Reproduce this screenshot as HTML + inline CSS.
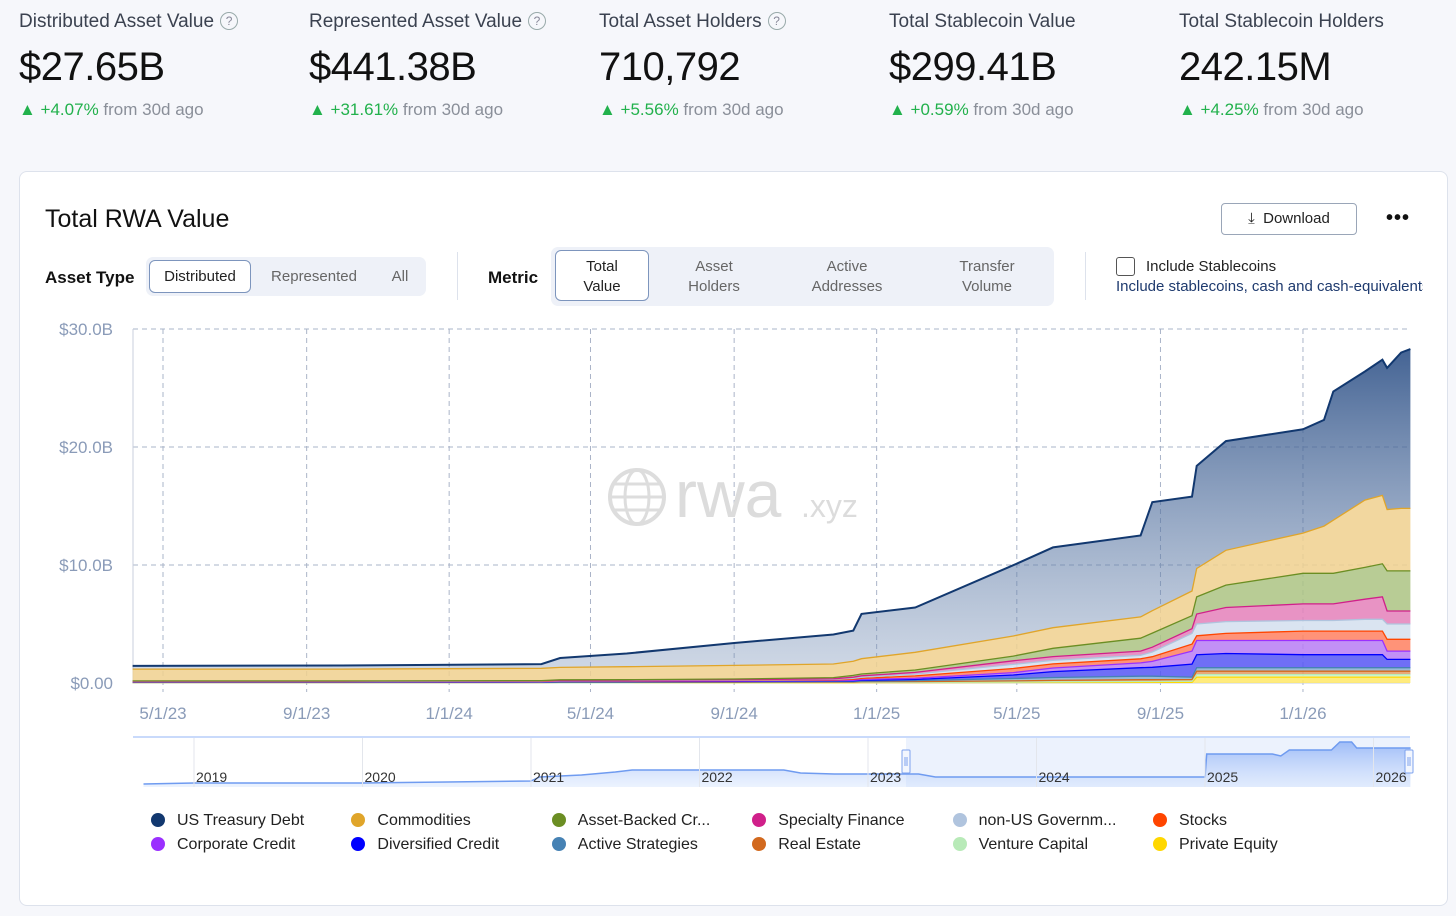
<!DOCTYPE html>
<html><head><meta charset="utf-8">
<style>
body{margin:0;width:1456px;height:916px;background:#f6f7fb;font-family:"Liberation Sans",sans-serif;position:relative;overflow:hidden;color:#111}
.stat{position:absolute;top:11px}
.stat .lbl{font-size:19px;color:#3b4250;white-space:nowrap}
.stat .q{display:inline-block;width:16px;height:16px;border:1.5px solid #9aa;border-radius:50%;font-size:12px;text-align:center;line-height:16px;color:#889;vertical-align:2px;margin-left:6px}
.stat .val{font-size:40px;margin-top:12px;letter-spacing:-0.5px}
.stat .chg{font-size:17px;margin-top:10px;color:#8a8f99;white-space:nowrap}
.stat .chg b{color:#22b14c;font-weight:normal}
.card{position:absolute;left:19px;top:171px;width:1427px;height:733px;background:#fff;border:1px solid #dde2ec;border-radius:8px}
.abs{position:absolute}
.seg{position:absolute;background:#eef1f8;border-radius:7px}
.opt{position:absolute;font-size:15px;color:#666;text-align:center;line-height:20px}
.sel{background:#fff;border:1px solid #7d95bd;border-radius:6px;color:#222}
</style></head><body>
<div class="stat" style="left:19px"><div class="lbl">Distributed Asset Value<span class="q">?</span></div><div class="val">$27.65B</div><div class="chg"><b>▲ +4.07%</b> from 30d ago</div></div>
<div class="stat" style="left:309px"><div class="lbl">Represented Asset Value<span class="q">?</span></div><div class="val">$441.38B</div><div class="chg"><b>▲ +31.61%</b> from 30d ago</div></div>
<div class="stat" style="left:599px"><div class="lbl">Total Asset Holders<span class="q">?</span></div><div class="val">710,792</div><div class="chg"><b>▲ +5.56%</b> from 30d ago</div></div>
<div class="stat" style="left:889px"><div class="lbl">Total Stablecoin Value</div><div class="val">$299.41B</div><div class="chg"><b>▲ +0.59%</b> from 30d ago</div></div>
<div class="stat" style="left:1179px"><div class="lbl">Total Stablecoin Holders</div><div class="val">242.15M</div><div class="chg"><b>▲ +4.25%</b> from 30d ago</div></div>

<div class="card"></div>
<div class="abs" style="left:45px;top:205px;font-size:25px">Total RWA Value</div>
<div class="abs" style="left:1221px;top:203px;width:134px;height:30px;border:1px solid #9aa6b8;border-radius:4px;font-size:15px;line-height:30px;text-align:center;color:#222">⤓&nbsp; Download</div>
<div class="abs" style="left:1386px;top:207px;font-size:20px;font-weight:bold;letter-spacing:1px">•••</div>

<div class="abs" style="left:45px;top:268px;font-size:17px;font-weight:bold">Asset Type</div>
<div class="seg" style="left:146px;top:257px;width:280px;height:39px"></div>
<div class="opt sel" style="left:149px;top:260px;width:100px;height:31px;line-height:31px">Distributed</div>
<div class="opt" style="left:262px;top:267px;width:104px">Represented</div>
<div class="opt" style="left:380px;top:267px;width:40px">All</div>
<div class="abs" style="left:457px;top:252px;width:1px;height:48px;background:#dde2ec"></div>
<div class="abs" style="left:488px;top:268px;font-size:17px;font-weight:bold">Metric</div>
<div class="seg" style="left:551px;top:247px;width:503px;height:59px"></div>
<div class="opt sel" style="left:555px;top:250px;width:94px;height:51px;padding-top:6px;box-sizing:border-box">Total<br>Value</div>
<div class="opt" style="left:664px;top:257px;width:100px">Asset<br>Holders</div>
<div class="opt" style="left:787px;top:257px;width:120px">Active<br>Addresses</div>
<div class="opt" style="left:927px;top:257px;width:120px">Transfer<br>Volume</div>
<div class="abs" style="left:1085px;top:252px;width:1px;height:48px;background:#dde2ec"></div>
<div class="abs" style="left:1116px;top:257px;width:17px;height:17px;border:1.5px solid #555;border-radius:3px"></div>
<div class="abs" style="left:1146px;top:258px;font-size:15px;color:#222">Include Stablecoins</div>
<div class="abs" style="left:1116px;top:278px;font-size:15px;color:#1e3a6e;white-space:nowrap;width:307px;overflow:hidden">Include stablecoins, cash and cash-equivalents</div>

<svg class="abs" style="left:0;top:0" width="1456" height="916" id="chart">
<defs>
<linearGradient id="gUST" x1="0" y1="340" x2="0" y2="683" gradientUnits="userSpaceOnUse"><stop offset="0" stop-color="#2e5187" stop-opacity="0.92"/><stop offset="1" stop-color="#7f97bb" stop-opacity="0.35"/></linearGradient>
<linearGradient id="gNav" x1="0" y1="740" x2="0" y2="787" gradientUnits="userSpaceOnUse"><stop offset="0" stop-color="#7fa6f5" stop-opacity="0.75"/><stop offset="1" stop-color="#cfe0fd" stop-opacity="0.4"/></linearGradient>
</defs>
<g id="grid"></g>
<g id="wm">
<circle cx="637" cy="497" r="27" fill="none" stroke="#ddd" stroke-width="4"/>
<ellipse cx="637" cy="497" rx="12" ry="27" fill="none" stroke="#ddd" stroke-width="3"/>
<line x1="610" y1="497" x2="664" y2="497" stroke="#ddd" stroke-width="3"/>
<line x1="614" y1="484" x2="660" y2="484" stroke="#ddd" stroke-width="3"/>
<line x1="614" y1="510" x2="660" y2="510" stroke="#ddd" stroke-width="3"/>
<text x="675" y="517" font-size="66" fill="#dcdcdc" font-family="Liberation Sans">rwa</text>
<text x="801" y="517" font-size="32" fill="#dcdcdc" font-family="Liberation Sans">.xyz</text>
</g>
<g id="areas"></g>
<g id="axes"></g>
<g id="nav"></g>
</svg>
<div id="legend"></div>

<script>
const dates=["2023-04-05","2023-10-01","2024-03-20","2024-04-05","2024-06-01","2024-09-01","2024-11-25","2024-12-12","2024-12-19","2025-02-03","2025-04-28","2025-06-01","2025-08-15","2025-08-25","2025-09-28","2025-10-02","2025-10-27","2026-01-01","2026-01-19","2026-01-27","2026-02-23","2026-03-10","2026-03-14","2026-03-26","2026-04-03"];
const privateEquity=[.01,.01,.01,.01,.01,.01,.02,.02,.03,.03,.04,.04,.05,.05,.05,.5,.5,.5,.5,.5,.5,.5,.5,.5,.5];
const ventureCapital=[.01,.01,.01,.01,.01,.02,.02,.02,.03,.03,.04,.06,.08,.08,.1,.2,.2,.2,.2,.2,.2,.2,.2,.2,.2];
const realEstate=[.02,.02,.02,.03,.03,.03,.04,.04,.05,.06,.1,.12,.15,.15,.15,.3,.3,.3,.3,.3,.3,.3,.3,.3,.3];
const activeStrategies=[.02,.02,.02,.03,.03,.03,.04,.04,.05,.08,.2,.25,.3,.3,.2,.3,.3,.3,.3,.3,.3,.3,.3,.3,.3];
const diversifiedCredit=[.02,.02,.03,.05,.05,.05,.06,.07,.08,.1,.3,.5,.72,.75,1.1,1.1,1.2,1.1,1.1,1.1,1.1,1.1,.7,.7,.7];
const corporateCredit=[.01,.01,.02,.02,.02,.03,.03,.04,.05,.1,.2,.3,.4,.5,1.1,1.2,1.1,1.2,1.2,1.2,1.2,1.2,.7,.7,.7];
const stocks=[.02,.02,.02,.03,.03,.04,.05,.08,.1,.2,.35,.35,.35,.4,.6,.4,.6,.8,.8,.8,.8,.8,1.0,1.0,1.0];
const nonUsGov=[.02,.02,.02,.02,.03,.03,.05,.08,.1,.15,.35,.3,.3,.4,.9,1.0,1.0,.9,.9,.9,1.0,1.0,1.3,1.3,1.3];
const specialtyFinance=[.02,.02,.02,.03,.03,.04,.05,.1,.12,.15,.3,.32,.35,.4,.4,.85,1.2,1.4,1.4,1.4,1.7,1.9,1.1,1.1,1.1];
const assetBacked=[.03,.03,.03,.04,.04,.06,.1,.15,.15,.2,.4,.7,1.1,1.2,1.1,1.45,1.9,2.6,2.6,2.6,2.7,2.8,3.4,3.4,3.4];
const commodities=[1.0,1.0,1.05,1.05,1.1,1.15,1.15,1.2,1.3,1.5,1.7,1.75,1.8,1.9,2.1,2.4,2.95,3.4,4.0,4.5,5.7,5.8,5.2,5.3,5.3];
const usTreasury=[.27,.3,.35,.8,1.12,1.9,2.5,2.6,3.8,3.8,6.0,6.8,6.9,9.2,8.0,8.7,9.25,8.8,9.0,10.9,10.9,11.5,12.0,13.2,13.5];
const yTicks=[0,10,20,30];
const yTickLabels=["$0.00","$10.0B","$20.0B","$30.0B"];
const xTickDates=["2023-05-01","2023-09-01","2024-01-01","2024-05-01","2024-09-01","2025-01-01","2025-05-01","2025-09-01","2026-01-01"];
const xTickLabels=["5/1/23","9/1/23","1/1/24","5/1/24","9/1/24","1/1/25","5/1/25","9/1/25","1/1/26"];
const navYears=[2018.7,2019,2020,2020.5,2021,2021.05,2021.3,2021.5,2021.6,2022,2022.5,2022.6,2022.8,2023.3,2023.4,2024.9,2025.0,2025.01,2025.4,2025.45,2025.5,2025.75,2025.8,2025.87,2025.9,2026.22];
const navValues=[3,4,4,5,6,10,12,15,17,17,17,14,13,13,10,10,10,33,33,31,37,37,45,45,39,39];
const navYearLabels=["2019","2020","2021","2022","2023","2024","2025","2026"];

const series=[
 {name:"Private Equity",v:privateEquity,c:"#ffd700",f:"#ffe866"},
 {name:"Venture Capital",v:ventureCapital,c:"#b8eab8",f:"#d4f5d4"},
 {name:"Real Estate",v:realEstate,c:"#d2691e",f:"#e59a63"},
 {name:"Active Strategies",v:activeStrategies,c:"#4682b4",f:"#86aed0"},
 {name:"Diversified Credit",v:diversifiedCredit,c:"#0000ff",f:"#5656f5"},
 {name:"Corporate Credit",v:corporateCredit,c:"#9b30ff",f:"#b77cf5"},
 {name:"Stocks",v:stocks,c:"#ff4500",f:"#ff8060"},
 {name:"non-US Governm...",v:nonUsGov,c:"#b0c4de",f:"#d3dfee"},
 {name:"Specialty Finance",v:specialtyFinance,c:"#d0208a",f:"#e480ba"},
 {name:"Asset-Backed Cr...",v:assetBacked,c:"#6b8e23",f:"#acc383"},
 {name:"Commodities",v:commodities,c:"#e0a52a",f:"#f0d08e"},
 {name:"US Treasury Debt",v:usTreasury,c:"#12386f",f:"url(#gUST)"}
];
const NS="http://www.w3.org/2000/svg";
const base=Date.UTC(2023,4,1);
function dayOf(s){const p=s.split("-");return (Date.UTC(+p[0],+p[1]-1,+p[2])-base)/86400000;}
function X(s){return 163+dayOf(s)*1.168;}
function Y(v){return 683-v*11.8;}
function el(t,a,parent){const e=document.createElementNS(NS,t);for(const k in a)e.setAttribute(k,a[k]);parent.appendChild(e);return e;}
const grid=document.getElementById("grid"),areas=document.getElementById("areas"),axes=document.getElementById("axes"),nav=document.getElementById("nav");
yTicks.forEach((t,i)=>{
 if(t>0){const l=el("line",{x1:133,x2:1410,y1:Y(t),y2:Y(t),stroke:"#aab4c8","stroke-dasharray":"5,4","stroke-width":1},grid);
 
 }
 const tx=el("text",{x:113,y:Y(t)+6,"text-anchor":"end","font-size":17,fill:"#8a9bb8"},axes);tx.textContent=yTickLabels[i];
 
 
});
xTickDates.forEach((d,i)=>{
 const l=el("line",{x1:X(d),x2:X(d),y1:329,y2:692,stroke:"#aab4c8","stroke-dasharray":"5,4","stroke-width":1},grid);
 
 
 const tx=el("text",{x:X(d),y:719,"text-anchor":"middle","font-size":17,fill:"#8a9bb8"},axes);tx.textContent=xTickLabels[i];
 
 
});
el("line",{x1:133,x2:133,y1:329,y2:683,stroke:"#c8cfdc"},grid);
el("line",{x1:133,x2:1410,y1:683,y2:683,stroke:"#c8cfdc"},grid);
const cum=dates.map(()=>0);
series.forEach(s=>{
 const lo=cum.slice();const hi=cum.map((c,i)=>c+s.v[i]);
 let d="";dates.forEach((dt,i)=>{d+=(i?"L":"M")+X(dt).toFixed(1)+","+Y(hi[i]).toFixed(1);});
 let top=d;
 for(let i=dates.length-1;i>=0;i--)d+="L"+X(dates[i]).toFixed(1)+","+Y(lo[i]).toFixed(1);
 const a=el("path",{d:d+"Z",fill:s.f,"fill-opacity":s.f.startsWith("url")?1:0.85},areas);
 
 
 s.top=top;
 for(let i=0;i<cum.length;i++)cum[i]=hi[i];
});
series.forEach(s=>{const l=el("path",{d:s.top,fill:"none",stroke:s.c,"stroke-width":s.name==="US Treasury Debt"?2:1.3},areas);
 
 });
// navigator
function NX(y){return 194+(y-2019)*168.5;}
el("rect",{x:133,y:737,width:1277,height:50,fill:"#fff"},nav);
const selR=el("rect",{x:906,y:738,width:504,height:49,fill:"#dfe9fc","fill-opacity":0.6},nav);


el("line",{x1:133,x2:1410,y1:737,y2:737,stroke:"#c9dafb","stroke-width":2},nav);
let nd="";navYears.forEach((y,i)=>{nd+=(i?"L":"M")+NX(y).toFixed(1)+","+(787-navValues[i]).toFixed(1);});
el("path",{d:nd+"L"+NX(navYears[navYears.length-1])+",787L"+NX(navYears[0])+",787Z",fill:"url(#gNav)"},nav);
el("path",{d:nd,fill:"none",stroke:"#6f9bf0","stroke-width":1.5},nav);
navYearLabels.forEach(l=>{const x=NX(+l);el("line",{x1:x,x2:x,y1:738,y2:787,stroke:"#e3e6ec"},nav);
 const t=el("text",{x:x+2,y:782,"font-size":14,fill:"#333"},nav);t.textContent=l;
 
 });
[906,1409].forEach(x=>{const h=el("rect",{x:x-4,y:750,width:8,height:23,fill:"#f2f6fe",stroke:"#7ea3ee",rx:1},nav);
 
 
 el("line",{x1:x-1,x2:x-1,y1:757,y2:766,stroke:"#7ea3ee"},nav);el("line",{x1:x+1,x2:x+1,y1:757,y2:766,stroke:"#7ea3ee"},nav);});
// legend
const legendOrder=["US Treasury Debt","Commodities","Asset-Backed Cr...","Specialty Finance","non-US Governm...","Stocks","Corporate Credit","Diversified Credit","Active Strategies","Real Estate","Venture Capital","Private Equity"];
const lg=document.getElementById("legend");
legendOrder.forEach((n,i)=>{const s=series.find(q=>q.name===n);
 const d=document.createElement("div");
 
 
 d.style.cssText="position:absolute;left:"+(151+(i%6)*200.4)+"px;top:"+(812+Math.floor(i/6)*24)+"px;font-size:16px;color:#222;white-space:nowrap";
 d.innerHTML='<span style="display:inline-block;width:14px;height:14px;border-radius:50%;background:'+s.c+';vertical-align:-2px;margin-right:12px"></span>'+n;
 lg.appendChild(d);});
</script>
</body></html>
